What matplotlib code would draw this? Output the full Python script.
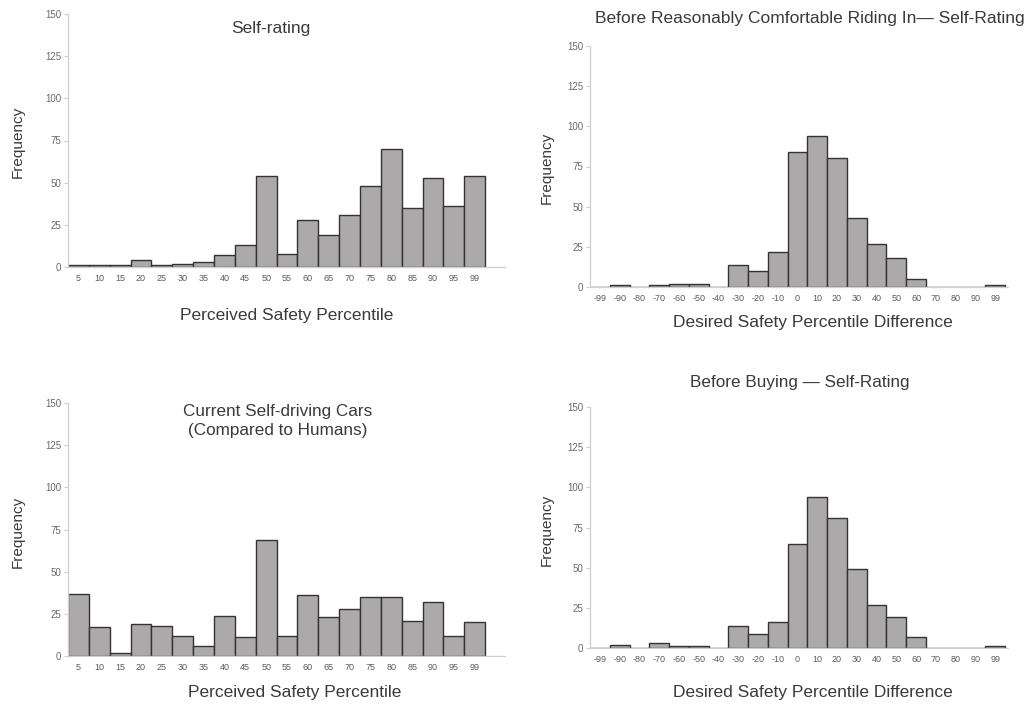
import numpy as np
import matplotlib
matplotlib.use("Agg")
import matplotlib.pyplot as plt

plt.rcParams['font.family'] = ['Liberation Sans', 'DejaVu Sans']

# percentile categories (left column)
pct_labels = ['5', '10', '15', '20', '25', '30', '35', '40', '45', '50',
              '55', '60', '65', '70', '75', '80', '85', '90', '95', '99']
self_rating = [1, 1, 1, 4, 1, 2, 3, 7, 13, 54, 8, 28, 19, 31, 48, 70, 35, 53, 36, 54]
current_cars = [37, 17, 2, 19, 18, 12, 6, 24, 11, 69, 12, 36, 23, 28, 35, 35, 21, 32, 12, 20]

# difference categories (right column)
diff_labels = ['-99', '-90', '-80', '-70', '-60', '-50', '-40', '-30', '-20', '-10', '0',
               '10', '20', '30', '40', '50', '60', '70', '80', '90', '99']
riding_in = [0, 1, 0, 1, 2, 2, 0, 14, 10, 22, 84, 94, 80, 43, 27, 18, 5, 0, 0, 0, 1]
buying = [0, 2, 0, 3, 1, 1, 0, 14, 9, 16, 65, 94, 81, 49, 27, 19, 7, 0, 0, 0, 1]

W, H = 1030, 704
fig = plt.figure(figsize=(W / 100, H / 100), dpi=100)


def box(x0, y0, x1, y1):
    # pixel box -> figure fraction [left, bottom, width, height]
    return [x0 / W, 1 - y1 / H, (x1 - x0) / W, (y1 - y0) / H]


def ftext(x, y, s, **kw):
    fig.text(x / W, 1 - y / H, s, ha='center', va='center', color='#3a3a3a', **kw)


def hist(ax, labels, values, right_pad):
    pos = np.arange(len(labels))
    ax.bar(pos, values, width=1.0, color='#aba9a9', edgecolor='#333333', linewidth=1.0)
    ax.set_xlim(-0.5, len(labels) - 0.5 + right_pad)
    ax.set_ylim(0, 150)
    ax.set_yticks([0, 25, 50, 75, 100, 125, 150])
    ax.set_xticks(pos)
    ax.set_xticklabels(labels)
    for s in ['top', 'right']:
        ax.spines[s].set_visible(False)
    for s in ['left', 'bottom']:
        ax.spines[s].set_color('#cfcfcf')
        ax.spines[s].set_linewidth(0.9)
    ax.tick_params(axis='x', length=0, labelsize=6.5, labelcolor='#5a5a5a', pad=5)
    ax.tick_params(axis='y', length=3, width=0.8, color='#cfcfcf',
                   labelsize=7, labelcolor='#6a6a6a', pad=2)


ax1 = fig.add_axes(box(68, 14, 505, 267))
hist(ax1, pct_labels, self_rating, 0.95)
ax2 = fig.add_axes(box(590, 46, 1008, 287))
hist(ax2, diff_labels, riding_in, 0.15)
ax3 = fig.add_axes(box(68, 403, 505, 656))
hist(ax3, pct_labels, current_cars, 0.95)
ax4 = fig.add_axes(box(590, 407, 1008, 648))
hist(ax4, diff_labels, buying, 0.15)

# titles
ftext(271, 28, 'Self-rating', fontsize=12.5)
fig.text(595 / W, 1 - 18 / H, 'Before Reasonably Comfortable Riding In\u2014 Self-Rating',
         ha='left', va='center', color='#3a3a3a', fontsize=12.5)
ftext(278, 421, 'Current Self-driving Cars\n(Compared to Humans)', fontsize=12.3, linespacing=1.35)
ftext(800, 383, 'Before Buying \u2014 Self-Rating', fontsize=12.3)

# axis labels
ftext(287, 315, 'Perceived Safety Percentile', fontsize=12.5)
ftext(813, 323, 'Desired Safety Percentile Difference', fontsize=12.5)
ftext(295, 693, 'Perceived Safety Percentile', fontsize=12.5)
ftext(813, 693, 'Desired Safety Percentile Difference', fontsize=12.5)
for x, y in [(18, 142), (547, 168), (18, 532), (547, 530)]:
    ftext(x, y, 'Frequency', fontsize=11, rotation=90)

fig.savefig('out.png', dpi=100)
